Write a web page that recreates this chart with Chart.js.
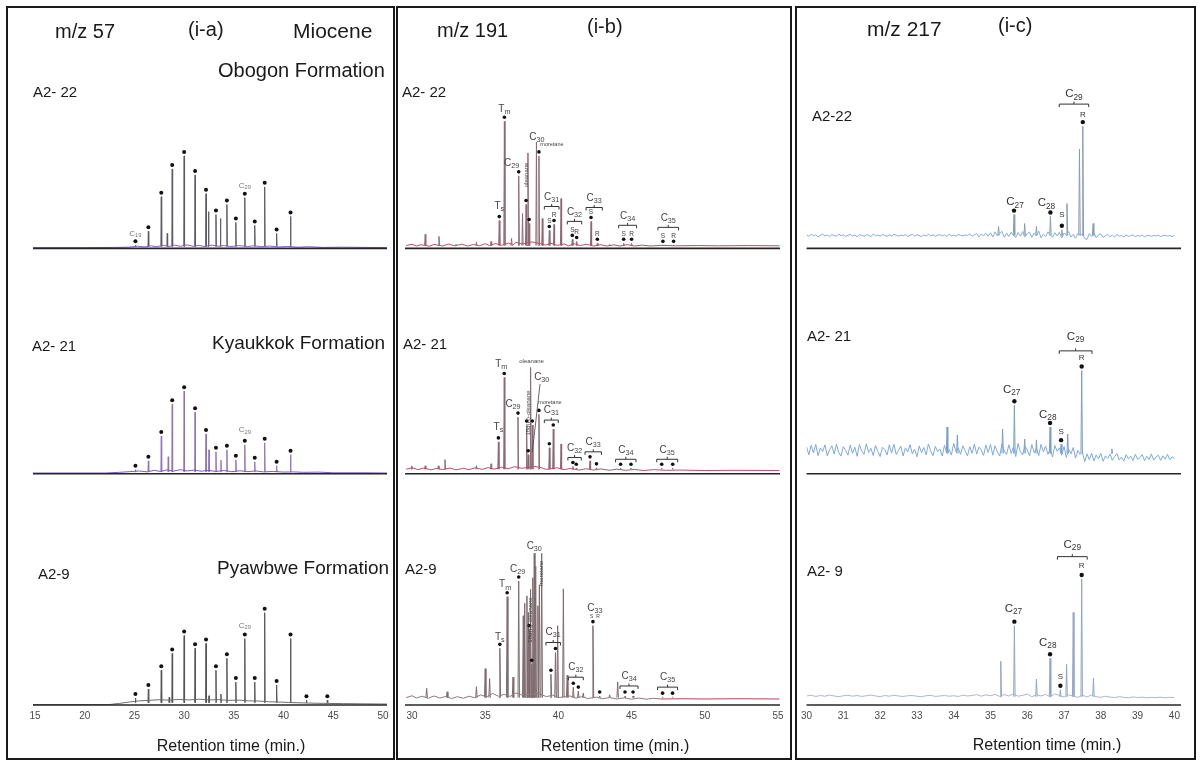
<!DOCTYPE html>
<html>
<head>
<meta charset="utf-8">
<script src="https://cdn.jsdelivr.net/npm/chart.js@4.4.0/dist/chart.umd.min.js"></script>
<style>
  html, body { margin: 0; padding: 0; background: #fff; }
  body { width: 1200px; height: 761px; position: relative; overflow: hidden;
         font-family: "Liberation Sans", Arial, Helvetica, sans-serif; color: #1a1a1a; }
  .box { position: absolute; box-sizing: border-box; border: 2px solid #1a1a1a; }
  canvas { position: absolute; top: 8px; }
  .t { position: absolute; white-space: nowrap; line-height: 1; transform: translateY(-50%); }
  .c { transform: translate(-50%, -50%); }
</style>
</head>
<body>
<div class="box" style="left:6px;top:6px;width:389px;height:754px"></div>
<div class="box" style="left:396px;top:6px;width:396px;height:754px"></div>
<div class="box" style="left:795px;top:6px;width:401px;height:754px"></div>

<canvas id="m57" width="386" height="750" style="left:8px"></canvas>
<canvas id="m191" width="392" height="750" style="left:398px"></canvas>
<canvas id="m217" width="398" height="750" style="left:796px"></canvas>

<!-- m/z 57 -->
<div class="t" style="left:55px;top:31px;font-size:20px">m/z 57</div>
<div class="t" style="left:188px;top:29px;font-size:20px">(i-a)</div>
<div class="t" style="left:293px;top:30px;font-size:21px">Miocene</div>
<div class="t" style="left:218px;top:70px;font-size:20px">Obogon Formation</div>
<div class="t" style="left:33px;top:91px;font-size:15px">A2- 22</div>
<div class="t" style="left:32px;top:345px;font-size:15px">A2- 21</div>
<div class="t" style="left:212px;top:342px;font-size:19px">Kyaukkok Formation</div>
<div class="t" style="left:38px;top:573px;font-size:15px">A2-9</div>
<div class="t" style="left:217px;top:567px;font-size:19px">Pyawbwe Formation</div>
<div class="t c" style="left:231px;top:746px;font-size:16px">Retention time (min.)</div>

<!-- m/z 191 -->
<div class="t" style="left:437px;top:30px;font-size:20px">m/z 191</div>
<div class="t" style="left:587px;top:26px;font-size:20px">(i-b)</div>
<div class="t" style="left:402px;top:91px;font-size:15px">A2- 22</div>
<div class="t" style="left:403px;top:343px;font-size:15px">A2- 21</div>
<div class="t" style="left:405px;top:568px;font-size:15px">A2-9</div>
<div class="t c" style="left:615px;top:746px;font-size:16px">Retention time (min.)</div>

<!-- m/z 217 -->
<div class="t" style="left:867px;top:28px;font-size:21px">m/z 217</div>
<div class="t" style="left:998px;top:25px;font-size:20px">(i-c)</div>
<div class="t" style="left:812px;top:115px;font-size:15px">A2-22</div>
<div class="t" style="left:807px;top:335px;font-size:15px">A2- 21</div>
<div class="t" style="left:807px;top:570px;font-size:15px">A2- 9</div>
<div class="t c" style="left:1047px;top:745px;font-size:16px">Retention time (min.)</div>

<script>
const FONT = '"Liberation Sans", Arial, Helvetica, sans-serif';
Chart.defaults.font.family = FONT;

// x-axis ticks (retention time, min)
const ticksM57 = [15, 20, 25, 30, 35, 40, 45, 50];
const ticksM191 = [30, 35, 40, 45, 50, 55];
const ticksM217 = [30, 31, 32, 33, 34, 35, 36, 37, 38, 39, 40];

// all intensities are % of each trace's full scale
// ---- m/z 57: n-alkanes C19 ... C35
const alkaneRT = [25.1, 26.4, 27.7, 28.8, 30.0, 31.1, 32.2, 33.2, 34.3, 35.2, 36.1, 37.1, 38.1, 39.3, 40.7, 42.3, 44.4];
const alk22 = [1.3, 7.4, 22.5, 34.6, 40.3, 32.0, 23.8, 14.7, 19.1, 11.3, 22.1, 10.0, 26.8, 6.5, 13.9];
const alk21 = [1.8, 5.7, 16.7, 30.8, 36.6, 27.3, 17.6, 9.7, 10.6, 6.2, 12.8, 5.3, 13.7, 3.5, 8.4];
const alk9 = [3.0, 6.9, 15.0, 22.3, 30.0, 24.5, 26.6, 15.0, 20.2, 9.9, 28.7, 9.9, 39.9, 8.6, 28.7, 2.1, 2.1];
const minor57_22 = [[28.3, 6.5], [32.45, 16.0], [33.65, 13.0]];
const minor57_21 = [[28.4, 7.5], [32.5, 10.6], [33.7, 6.0]];
const minor57_9 = [[28.5, 3.4], [32.5, 4.0], [33.7, 4.7]];
const hump57_22 = [[14.8, 0.3], [20, 0.3], [23, 0.4], [24.4, 0.5], [25.3, 0.9], [26.0, 0.6], [26.7, 1.1], [27.2, 0.7], [27.9, 1.3], [28.5, 0.8], [29.0, 1.4], [29.6, 0.9], [30.3, 1.5], [30.9, 0.9], [31.5, 1.3], [32.0, 0.8], [32.8, 1.4], [33.5, 0.9], [34.0, 1.2], [34.7, 0.8], [35.5, 1.2], [36.4, 0.8], [37.0, 1.1], [37.8, 0.7], [38.6, 1.0], [39.5, 0.6], [40.3, 0.8], [41.5, 0.5], [42.5, 0.7], [44.0, 0.4], [46, 0.5], [48, 0.4], [50.4, 0.3]];
const hump57_21 = [[14.8, 0.3], [22, 0.3], [23.5, 0.6], [24.5, 0.9], [25.5, 1.2], [26.3, 0.8], [27.0, 1.5], [27.6, 1.0], [28.3, 1.7], [28.9, 1.1], [29.6, 1.8], [30.3, 1.2], [31.0, 1.6], [31.7, 1.1], [32.4, 1.5], [33.2, 1.0], [34.0, 1.4], [34.8, 0.9], [35.6, 1.3], [36.4, 0.9], [37.2, 1.2], [38.0, 0.8], [39.0, 1.0], [40, 0.7], [41, 0.8], [42, 0.6], [43.5, 0.7], [45, 0.4], [48, 0.4], [50.4, 0.3]];
const hump57_9 = [[14.8, 0.2], [22.5, 0.2], [23.5, 0.7], [24.5, 1.3], [25.5, 1.8], [26.5, 2.0], [27.5, 2.3], [28.5, 2.1], [29.5, 2.4], [30.5, 2.2], [31.5, 2.5], [32.5, 2.2], [33.5, 2.3], [34.5, 2.0], [35.5, 2.1], [36.5, 1.8], [37.5, 1.7], [38.5, 1.4], [39.5, 1.3], [40.5, 1.1], [42, 0.9], [44, 0.7], [46, 0.6], [48, 0.5], [50.4, 0.4]];

// ---- m/z 191: terpanes [time, intensity]
const peaks191_22 = [[30.9, 6.1], [31.84, 5.2], [33.0, 1.7], [34.4, 2.6], [35.4, 3.0], [35.96, 12.1], [36.31, 55.4], [36.8, 4.3], [37.29, 31.6], [37.55, 15.2], [37.79, 19.1], [37.92, 41.6], [38.0, 10.8], [38.5, 46.3], [38.67, 40.3], [38.9, 13.0], [39.38, 7.8], [39.7, 10.4], [40.18, 21.7], [40.95, 3.9], [41.25, 3.0], [42.23, 11.7], [42.66, 2.2], [43.5, 1.7], [44.46, 2.2], [45.0, 2.2], [47.14, 1.3], [47.87, 1.3]];
const peaks191_21 = [[29.98, 3.5], [30.9, 3.5], [31.8, 3.5], [32.25, 6.2], [34.4, 3.5], [35.4, 4.4], [35.9, 14.1], [36.3, 42.7], [37.24, 25.1], [37.83, 21.6], [37.94, 8.4], [38.1, 47.1], [38.22, 21.6], [38.67, 26.3], [39.38, 11.5], [39.65, 19.8], [40.18, 13.2], [40.99, 3.2], [41.22, 2.4], [42.16, 5.7], [42.6, 2.6], [44.25, 2.4], [44.96, 2.4], [47.06, 2.4], [47.81, 2.4]];
const peaks191_9 = [[31.0, 7.2], [32.4, 5.7], [34.4, 7.9], [35.0, 15.7], [35.3, 11.4], [36.0, 24.5], [36.5, 46.8], [36.9, 12.1], [37.29, 53.6], [37.6, 38.6], [37.7, 44.0], [37.85, 47.2], [37.95, 40.0], [38.0, 32.6], [38.1, 50.0], [38.18, 17.6], [38.25, 55.0], [38.35, 65.6], [38.45, 60.0], [38.6, 42.9], [38.7, 52.0], [38.86, 65.6], [39.49, 13.3], [39.8, 22.7], [39.95, 34.3], [40.34, 50.2], [40.6, 12.9], [41.02, 7.7], [41.36, 6.0], [41.7, 5.2], [42.36, 34.3], [42.82, 3.9], [43.5, 4.4], [44.05, 9.9], [44.55, 3.9], [45.1, 3.9], [47.12, 3.4], [47.8, 3.4]];
const base191_22 = [[29.6, 1.2], [30.0, 1.8], [30.3, 1.0], [30.6, 1.6], [31.2, 0.9], [31.5, 1.7], [32.1, 1.0], [32.5, 1.9], [32.9, 1.1], [33.4, 1.8], [33.8, 1.0], [34.2, 1.7], [34.6, 1.1], [35.0, 2.0], [35.3, 1.2], [35.7, 2.1], [36.1, 1.3], [36.6, 2.3], [36.9, 1.4], [37.1, 2.6], [37.5, 1.9], [38.2, 2.8], [38.8, 2.0], [39.1, 1.4], [39.5, 2.2], [39.9, 1.3], [40.4, 1.9], [40.7, 1.1], [41.1, 2.0], [41.5, 1.2], [41.9, 1.8], [42.4, 1.0], [42.9, 1.6], [43.3, 1.0], [43.8, 1.5], [44.2, 1.0], [44.7, 1.6], [45.2, 1.0], [45.7, 1.4], [46.3, 1.0], [47.0, 1.3], [48.0, 1.1], [49.5, 1.2], [51.0, 1.1], [53.0, 1.2], [55.1, 1.1]];
const base191_21 = [[29.6, 2.0], [30.0, 2.6], [30.4, 1.8], [30.8, 2.5], [31.3, 1.7], [31.7, 2.4], [32.1, 1.8], [32.6, 2.5], [33.0, 1.7], [33.5, 2.4], [33.9, 1.8], [34.3, 2.6], [34.8, 1.9], [35.2, 2.7], [35.6, 2.0], [36.1, 2.9], [36.6, 2.2], [37.0, 3.1], [37.5, 2.4], [38.4, 3.2], [38.9, 2.5], [39.2, 1.9], [39.9, 2.6], [40.4, 1.8], [40.8, 2.3], [41.4, 1.6], [41.9, 2.2], [42.4, 1.6], [42.9, 2.1], [43.5, 1.5], [44.0, 2.0], [44.6, 1.5], [45.2, 1.9], [45.8, 1.4], [46.5, 1.8], [47.3, 1.5], [48.3, 1.6], [50.0, 1.4], [52.0, 1.5], [55.1, 1.4]];
const base191_9a = [[29.6, 3.2], [30.0, 4.0], [30.3, 3.0], [30.7, 3.8], [31.1, 2.9], [31.5, 3.9], [31.9, 3.0], [32.3, 3.7], [32.7, 2.8], [33.1, 3.6], [33.5, 2.9], [33.9, 3.8], [34.3, 3.1], [34.7, 4.4], [35.1, 3.5], [35.5, 5.0], [35.9, 3.8], [36.3, 4.6], [36.7, 3.7], [37.1, 5.2], [37.5, 4.3], [38.6, 5.0], [39.2, 3.6], [39.6, 4.3], [40.0, 3.2], [40.8, 3.9], [41.2, 3.0], [41.6, 3.6], [42.0, 2.8], [42.6, 3.4], [43.0, 2.7], [43.5, 3.2], [44.0, 2.6], [44.5, 3.1], [45.0, 2.5], [45.5, 3.0], [46.0, 2.5], [46.5, 2.9], [47.0, 2.6]];
const base191_9b = [[47.0, 2.6], [48.5, 2.7], [50, 2.6], [52, 2.7], [55.1, 2.6]];

// ---- m/z 217: steranes
const peaks217_22 = [[35.22, 9.5], [35.64, 14.7], [35.93, 10.8], [36.25, 9.5], [36.63, 13.9], [36.94, 8.1], [37.08, 19.5], [37.42, 43.3], [37.51, 53.3], [37.79, 10.8]];
const peaks217_21 = [[33.82, 20.7], [34.1, 17.2], [35.33, 19.8], [35.65, 30.4], [35.93, 15.4], [36.25, 15.0], [36.62, 20.7], [36.92, 13.1], [37.1, 17.6], [37.48, 45.8], [38.3, 11.0]];
const peaks217_9 = [[35.28, 18.9], [35.65, 34.3], [36.25, 11.2], [36.62, 20.2], [36.9, 6.6], [37.07, 17.6], [37.25, 40.0], [37.48, 54.5], [37.8, 11.6]];
// baselines sampled from 30.0 min at a fixed scan step
const scanStart217 = 30.0;
const scanStepFine = 0.0625, scanStepCoarse = 0.125;
const scan217_22 = [5.8, 5.2, 6.1, 5.5, 5.9, 5.0, 5.7, 6.2, 5.4, 5.8, 5.1, 6.0, 5.6, 5.3, 6.2, 5.5, 5.9, 5.2, 5.7, 6.1,
  5.4, 5.8, 5.0, 6.0, 5.6, 5.3, 5.9, 5.7, 5.1, 6.2, 5.5, 5.8, 5.3, 6.0, 5.6, 5.2, 5.9, 5.4, 6.1, 5.7,
  5.3, 5.8, 5.5, 6.0, 5.2, 5.7, 6.1, 5.4, 5.9, 5.6, 5.1, 5.8, 5.4, 6.2, 5.5, 5.9, 5.3, 5.7, 6.0, 5.4,
  5.8, 5.2, 6.1, 5.5, 5.7, 5.3, 6.0, 5.6, 5.4, 5.9, 5.6, 6.3, 5.2, 5.9, 6.5, 5.0, 6.2, 5.4, 6.6, 5.3,
  6.8, 4.9, 7.2, 5.4, 6.5, 7.4, 4.8, 6.6, 5.2, 7.0, 5.6, 4.7, 6.9, 5.3, 7.3, 5.0, 6.4, 7.1, 4.8, 6.7,
  5.5, 7.5, 4.6, 6.2, 5.1, 7.2, 5.7, 4.9, 6.8, 5.4, 7.0, 4.5, 6.6, 5.8, 7.3, 4.9, 6.1, 4.4, 6.5, 5.7, 6.3,
  4.2, 3.9, 6.4, 5.2, 6.8, 4.6, 5.9, 6.3, 4.8, 5.5, 6.0, 5.1, 5.7, 4.9, 6.1, 5.3, 5.6, 5.0, 5.8, 5.2,
  5.5, 5.9, 5.1, 5.6, 5.3, 5.8, 5.0, 5.5, 5.7, 5.2, 5.6, 5.4, 5.8, 5.1, 5.5, 5.7, 5.3, 5.6, 5.2, 5.5];
const scan217_21 = [11.9, 8.4, 12.6, 9.2, 13.0, 8.0, 11.4, 9.8, 12.8, 7.9, 10.6, 12.4, 8.7, 13.1, 9.5, 7.8, 12.0, 10.3, 8.2, 12.7,
  9.0, 11.8, 7.7, 12.9, 10.1, 8.6, 13.3, 9.4, 11.2, 8.1, 12.5, 9.9, 7.6, 11.7, 10.8, 8.3, 12.8, 9.1, 13.0, 8.5,
  10.4, 12.2, 7.9, 11.5, 9.6, 12.9, 8.8, 10.9, 7.5, 12.3, 9.3, 11.6, 8.4, 13.2, 10.0, 8.0, 12.1, 9.7, 11.0, 7.8,
  12.6, 9.2, 10.7, 8.3, 13.4, 9.8, 11.3, 8.6, 12.4, 10.2, 7.9, 12.0, 9.0, 13.1, 8.7, 11.8, 10.5, 8.1, 12.7, 9.4,
  13.0, 8.2, 12.4, 9.6, 7.8, 13.2, 10.1, 8.5, 12.8, 9.0, 11.9, 7.6, 13.4, 9.8, 8.4, 12.2, 10.6, 7.9, 12.9, 9.3,
  11.1, 8.0, 13.0, 9.7, 12.3, 8.6, 10.8, 7.4, 12.5, 9.9, 11.4, 8.2, 12.1, 7.2, 10.9, 8.8, 11.6, 6.9, 10.3, 8.5, 9.6,
  5.4, 8.8, 6.2, 9.1, 5.7, 8.3, 6.6, 9.0, 5.5, 7.9, 6.8, 8.7, 5.9, 7.6, 8.9, 6.1, 7.3, 5.6, 8.4, 6.7,
  7.8, 5.8, 8.6, 6.4, 7.1, 8.5, 5.7, 7.7, 6.3, 8.8, 6.0, 7.4, 8.2, 5.9, 7.9, 6.5, 8.6, 6.2, 7.5, 6.8];
const scan217_9 = [3.9, 4.2, 3.7, 4.1, 3.8, 4.3, 3.9, 3.6, 4.0, 4.2, 3.8, 4.1, 3.7, 4.0, 4.3, 3.9, 3.6, 4.1, 3.8, 4.2, 3.9, 3.7, 4.0, 4.1, 3.8, 3.6, 4.0, 4.2, 3.7, 3.9, 4.1, 3.8, 4.0, 3.7, 4.2, 3.9, 4.1, 4.5, 3.8, 4.4, 4.0,
  4.6, 3.7, 4.5, 3.9, 4.8, 3.8, 4.2, 4.7, 3.6, 4.4, 3.9, 4.6, 3.5, 4.8, 4.1, 3.4, 4.4, 3.8, 3.3, 4.2,
  3.5, 4.3, 3.6, 3.3, 3.8, 3.4, 3.2, 3.6, 3.3, 3.1, 3.5, 3.2, 3.4, 3.1, 3.3, 3.2, 3.4, 3.1, 3.3, 3.2];

// relative heights of the three stacked traces (top, middle, bottom)
const traceWeights = [231, 227, 233];
const axisIds = ['yTop', 'yMid', 'yBot'];

const pairs = list => list.map(([x, y]) => ({x, y}));
const sampled = (t0, step, vals) => vals.map((y, i) => ({x: t0 + i * step, y}));
const zipPeaks = (times, heights, extra) => heights.map((h, i) => [times[i], h]).concat(extra);

// each peak drawn as a narrow triangle standing on the trace baseline
function spikes(peaks, base, half) {
  const pts = [];
  peaks.forEach(([t, h]) => {
    pts.push({x: t - half, y: base}, {x: t, y: h}, {x: t + half, y: base}, {x: t, y: null});
  });
  return pts;
}

function subText(ctx, text, x, y, size, color) {
  const [main, sub] = text.split('_');
  const subSize = size * 0.72;
  ctx.font = size + 'px ' + FONT;
  const w1 = ctx.measureText(main).width;
  let w2 = 0;
  if (sub) { ctx.font = subSize + 'px ' + FONT; w2 = ctx.measureText(sub).width; }
  const x0 = x - (w1 + w2) / 2;
  ctx.fillStyle = color;
  ctx.textAlign = 'left';
  ctx.textBaseline = 'middle';
  ctx.font = size + 'px ' + FONT;
  ctx.fillText(main, x0, y);
  if (sub) { ctx.font = subSize + 'px ' + FONT; ctx.fillText(sub, x0 + w1, y + size * 0.28); }
}

// zero lines, peak dots, compound labels and S/R brackets
function peakMarks(traces, style) {
  return {
    id: 'peakMarks',
    afterDatasetsDraw(chart) {
      const ctx = chart.ctx;
      const xs = chart.scales.x;
      const px = t => xs.getPixelForValue(t);
      traces.forEach(tr => {
        const ys = chart.scales[tr.axis];
        const y0 = ys.getPixelForValue(0);
        const apex = t => {
          const p = tr.peaks.find(q => Math.abs(q[0] - t) < 0.006);
          return ys.getPixelForValue(p ? p[1] : 0);
        };
        const dotY = t => apex(t) - style.gap;
        const m = tr.marks;
        ctx.save();
        ctx.strokeStyle = '#262626';
        ctx.lineWidth = 1.6;
        ctx.beginPath();
        ctx.moveTo(xs.left, y0);
        ctx.lineTo(xs.right, y0);
        ctx.stroke();

        ctx.fillStyle = '#111';
        (m.dots || []).forEach(t => {
          ctx.beginPath();
          ctx.arc(px(t), dotY(t), style.r, 0, 2 * Math.PI);
          ctx.fill();
        });

        (m.labels || []).forEach(l => {
          subText(ctx, l.text, px(l.at) + (l.dx || 0), dotY(l.at) - l.up, l.size || style.size, style.color);
        });

        (m.brackets || []).forEach(b => {
          const refs = b.ref !== undefined ? [b.ref] : [b.a, b.b];
          const y = Math.min(...refs.map(dotY)) - (b.lift !== undefined ? b.lift : m.lift);
          const pad = b.pad !== undefined ? b.pad : 5;
          const x1 = px(b.a) - pad, x2 = px(b.b) + pad, xm = (x1 + x2) / 2;
          ctx.strokeStyle = '#333';
          ctx.lineWidth = 1;
          ctx.beginPath();
          ctx.moveTo(x1, y + 3); ctx.lineTo(x1, y); ctx.lineTo(x2, y); ctx.lineTo(x2, y + 3);
          ctx.moveTo(xm, y); ctx.lineTo(xm, y - 2.5);
          ctx.stroke();
          subText(ctx, b.text, xm, y - m.bup, style.size, style.color);
        });

        (m.notes || []).forEach(n => {
          const ax = px(n.at), ay = apex(n.at);
          ctx.save();
          ctx.translate(ax + n.dx, ay + n.dy);
          if (n.rot) ctx.rotate(n.rot * Math.PI / 180);
          subText(ctx, n.text, 0, 0, n.size, style.color);
          ctx.restore();
          if (n.lead) {
            ctx.strokeStyle = '#444';
            ctx.lineWidth = 0.8;
            ctx.beginPath();
            ctx.moveTo(ax + n.lead[0], ay + n.lead[1]);
            ctx.lineTo(ax + n.lead[2], ay + n.lead[3]);
            ctx.stroke();
          }
        });
        ctx.restore();
      });
    }
  };
}

function drawPanel(id, p) {
  const datasets = [];
  const scales = {
    x: {
      type: 'linear', min: p.min, max: p.max,
      afterBuildTicks: s => { s.ticks = p.ticks.map(v => ({value: v})); },
      grid: {display: false, drawTicks: false},
      border: {display: false},
      ticks: {font: {size: 10}, color: '#4a4a4a', padding: 5, maxRotation: 0, autoSkip: false}
    }
  };
  p.traces.forEach((tr, i) => {
    tr.axis = axisIds[i];
    tr.noise.forEach(n => datasets.push({
      yAxisID: tr.axis, data: n.pts, borderColor: n.color, borderWidth: 1,
      pointRadius: 0, tension: 0, fill: false
    }));
    datasets.push({
      yAxisID: tr.axis, data: spikes(tr.peaks, tr.base, tr.half), borderColor: tr.color,
      borderWidth: 1, pointRadius: 0, tension: 0, fill: false, spanGaps: false
    });
    scales[tr.axis] = {
      type: 'linear', display: false, position: 'left', stack: 'traces',
      stackWeight: traceWeights[i], weight: 3 - i, min: 0, max: 100
    };
  });
  return new Chart(document.getElementById(id), {
    type: 'line',
    data: {datasets},
    options: {
      responsive: false, animation: false, devicePixelRatio: 1, events: [],
      layout: {padding: {left: p.padL, right: p.padR, top: 11, bottom: 31}},
      plugins: {legend: {display: false}, tooltip: {enabled: false}},
      scales
    },
    plugins: [peakMarks(p.traces, p.style)]
  });
}

drawPanel('m57', {
  min: 14.8, max: 50.4, ticks: ticksM57, padL: 25, padR: 7,
  style: {gap: 4, r: 2, size: 8, color: '#777'},
  traces: [
    {peaks: zipPeaks(alkaneRT, alk22, minor57_22), base: 0.8, half: 0.04, color: '#5e5a66',
     noise: [{pts: pairs(hump57_22), color: '#8b5cc4'}],
     marks: {dots: alkaneRT.slice(0, 15), labels: [{at: 25.1, text: 'C_19', up: 8}, {at: 36.1, text: 'C_29', up: 8}]}},
    {peaks: zipPeaks(alkaneRT, alk21, minor57_21), base: 0.8, half: 0.04, color: '#9474b8',
     noise: [{pts: pairs(hump57_21), color: '#7c5cc0'}],
     marks: {dots: alkaneRT.slice(0, 15), labels: [{at: 36.1, text: 'C_29', up: 11}]}},
    {peaks: zipPeaks(alkaneRT, alk9, minor57_9), base: 1.0, half: 0.04, color: '#555',
     noise: [{pts: pairs(hump57_9), color: '#6d6d6d'}],
     marks: {dots: alkaneRT, labels: [{at: 36.1, text: 'C_29', up: 9}]}}
  ]
});

drawPanel('m191', {
  min: 29.52, max: 55.14, ticks: ticksM191, padL: 7, padR: 10,
  style: {gap: 4, r: 1.8, size: 10, color: '#444'},
  traces: [
    {peaks: peaks191_22, base: 1.2, half: 0.04, color: '#8e6a74',
     noise: [{pts: pairs(base191_22), color: '#c24d66'}],
     marks: {
       dots: [35.96, 36.31, 37.29, 37.79, 38.0, 38.67, 39.38, 39.7, 40.95, 41.25, 42.23, 42.66, 44.46, 45.0, 47.14, 47.87],
       labels: [{at: 35.96, text: 'T_s', up: 10}, {at: 36.31, text: 'T_m', up: 8}, {at: 37.29, text: 'C_29', dx: -7, up: 9},
                {at: 38.67, text: 'C_30', dx: -2, up: 15},
                {at: 39.38, text: 'S', up: 5, size: 6.5}, {at: 39.7, text: 'R', up: 5, size: 6.5},
                {at: 40.95, text: 'S', up: 5, size: 6.5}, {at: 41.25, text: 'R', up: 5, size: 6.5},
                {at: 42.23, text: 'S', up: 5, size: 6.5}, {at: 42.66, text: 'R', up: 5, size: 6.5},
                {at: 44.46, text: 'S', up: 5, size: 6.5}, {at: 45.0, text: 'R', up: 5, size: 6.5},
                {at: 47.14, text: 'S', up: 5, size: 6.5}, {at: 47.87, text: 'R', up: 5, size: 6.5}],
       lift: 14, bup: 9,
       brackets: [{a: 39.38, b: 39.7, text: 'C_31'}, {a: 40.95, b: 41.25, text: 'C_32'}, {a: 42.23, b: 42.66, text: 'C_33', lift: 10},
                  {a: 44.46, b: 45.0, text: 'C_34'}, {a: 47.14, b: 47.87, text: 'C_35'}],
       notes: [{at: 37.92, text: 'oleanane', dx: -2, dy: 22, rot: -90, size: 6},
               {at: 38.67, text: 'moretane', dx: 13, dy: -11, size: 5.5}]
     }},
    {peaks: peaks191_21, base: 2.0, half: 0.04, color: '#8a6a72',
     noise: [{pts: pairs(base191_21), color: '#c24d66'}],
     marks: {
       dots: [35.9, 36.3, 37.24, 37.83, 37.94, 38.22, 38.67, 39.38, 39.65, 40.99, 41.22, 42.16, 42.6, 44.25, 44.96, 47.06, 47.81],
       labels: [{at: 35.9, text: 'T_s', up: 11}, {at: 36.3, text: 'T_m', dx: -3, up: 9}, {at: 37.24, text: 'C_29', dx: -5, up: 9}],
       lift: 5, bup: 9.5,
       brackets: [{a: 39.38, b: 39.65, text: 'C_31'}, {a: 40.99, b: 41.22, text: 'C_32'}, {a: 42.16, b: 42.6, text: 'C_33'},
                  {a: 44.25, b: 44.96, text: 'C_34'}, {a: 47.06, b: 47.81, text: 'C_35'}],
       notes: [{at: 38.1, text: 'oleanane', dx: 1, dy: -6, size: 6},
               {at: 38.22, text: 'C_30', dx: 9.4, dy: -48, size: 10, lead: [7.7, -41, 0, 27]},
               {at: 38.67, text: 'moretane', dx: 11, dy: -11.6, size: 5.5},
               {at: 37.83, text: '18α(H)-oleanane', dx: 1.3, dy: -12, rot: -90, size: 6}]
     }},
    {peaks: peaks191_9, base: 3.2, half: 0.05, color: '#7d6a6e',
     noise: [{pts: pairs(base191_9a), color: '#8f7a80'}, {pts: pairs(base191_9b), color: '#b8405a'}],
     marks: {
       dots: [36.0, 36.5, 37.29, 38.0, 38.18, 39.49, 39.8, 41.02, 41.36, 42.36, 42.82, 44.55, 45.1, 47.12, 47.8],
       labels: [{at: 36.0, text: 'T_s', up: 7}, {at: 36.5, text: 'T_m', dx: -2, up: 8}, {at: 37.29, text: 'C_29', dx: -1, up: 8},
                {at: 38.35, text: 'C_30', up: 3}, {at: 42.36, text: 'C_33', dx: 2, up: 13}],
       lift: 6, bup: 10,
       brackets: [{a: 39.49, b: 39.8, text: 'C_31'}, {a: 41.02, b: 41.36, text: 'C_32'},
                  {a: 44.55, b: 45.1, text: 'C_34'}, {a: 47.12, b: 47.8, text: 'C_35'}],
       notes: [{at: 42.36, text: 'S  R', dx: 2, dy: -9, size: 5},
               {at: 38.0, text: '18α(H)-oleanane', dx: 1, dy: -9.5, rot: -90, size: 6},
               {at: 38.86, text: 'moretane', dx: 0, dy: 20, rot: -90, size: 6}]
     }}
  ]
});

drawPanel('m217', {
  min: 30, max: 40.18, ticks: ticksM217, padL: 6, padR: 13,
  style: {gap: 4, r: 2.2, size: 11.5, color: '#333'},
  traces: [
    {peaks: peaks217_22, base: 5.6, half: 0.02, color: '#8b9bb0',
     noise: [{pts: sampled(scanStart217, scanStepFine, scan217_22), color: '#83addf'}],
     marks: {
       dots: [35.64, 36.63, 36.94, 37.51],
       labels: [{at: 35.64, text: 'C_27', dx: 1, up: 8.3}, {at: 36.63, text: 'C_28', dx: -4, up: 9.4},
                {at: 36.94, text: 'S', up: 11, size: 8}, {at: 37.51, text: 'R', up: 7, size: 8}],
       bup: 10,
       brackets: [{a: 36.87, b: 37.67, ref: 37.51, lift: 18, pad: 0, text: 'C_29'}]
     }},
    {peaks: peaks217_21, base: 9.0, half: 0.02, color: '#7c9cc8',
     noise: [{pts: sampled(scanStart217, scanStepFine, scan217_21), color: '#7eaae0'}],
     marks: {
       dots: [35.65, 36.62, 36.92, 37.48],
       labels: [{at: 35.65, text: 'C_27', dx: -2.7, up: 11.6}, {at: 36.62, text: 'C_28', dx: -2.3, up: 8.3},
                {at: 36.92, text: 'S', up: 8.3, size: 8}, {at: 37.48, text: 'R', up: 9, size: 8}],
       bup: 14.4,
       brackets: [{a: 36.87, b: 37.76, ref: 37.48, lift: 15.6, pad: 0, text: 'C_29'}]
     }},
    {peaks: peaks217_9, base: 3.6, half: 0.02, color: '#93a4c6',
     noise: [{pts: sampled(scanStart217, scanStepCoarse, scan217_9), color: '#a9b6d6'}],
     marks: {
       dots: [35.65, 36.62, 36.9, 37.48],
       labels: [{at: 35.65, text: 'C_27', dx: -1, up: 13.3}, {at: 36.62, text: 'C_28', dx: -2.3, up: 11.6},
                {at: 36.9, text: 'S', up: 9, size: 8}, {at: 37.48, text: 'R', up: 9, size: 8}],
       bup: 11.7,
       brackets: [{a: 36.82, b: 37.63, ref: 37.48, lift: 18.3, pad: 0, text: 'C_29'}]
     }}
  ]
});
</script>
</body>
</html>
